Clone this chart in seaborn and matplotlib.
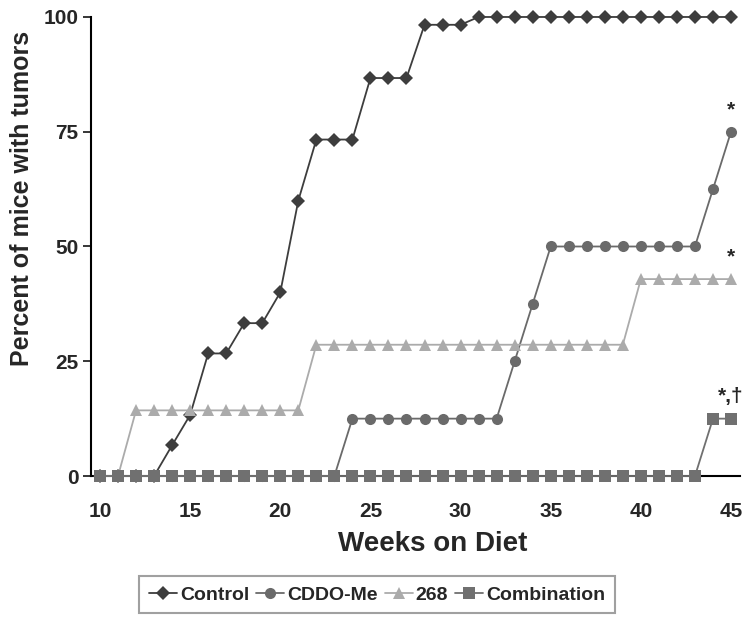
import pandas as pd
import matplotlib
matplotlib.use("Agg")
import matplotlib.pyplot as plt
import seaborn as sns

weeks = list(range(10, 46))

control = [0, 0, 0, 0, 6.7, 13.3, 26.7, 26.7, 33.3, 33.3, 40, 60, 73.3, 73.3, 73.3,
           86.7, 86.7, 86.7, 98.3, 98.3, 98.3] + [100] * 15
cddo_me = [0] * 14 + [12.5] * 9 + [25, 37.5] + [50] * 9 + [62.5, 75]
t268 = [0, 0] + [14.3] * 10 + [28.6] * 18 + [42.9] * 6
combination = [0] * 34 + [12.5, 12.5]

series_names = ["Control", "CDDO-Me", "268", "Combination"]
series_values = [control, cddo_me, t268, combination]
colors = ["#3d3d3d", "#6a6a6a", "#ababab", "#707070"]
markers = ["D", "o", "^", "s"]

# annotations above the last point of each treated group
notes = [("*", 75), ("*", 42.9), ("*,\u2020", 12.5)]

rows = []
for name, vals in zip(series_names, series_values):
    for w, v in zip(weeks, vals):
        rows.append({"week": w, "pct": v, "group": name})
df = pd.DataFrame(rows)

sns.set_style("white")
plt.rcParams["font.family"] = ["Liberation Sans", "DejaVu Sans"]
plt.rcParams["font.weight"] = "bold"

fig = plt.figure(figsize=(7.5, 6.22), dpi=100)
ax = fig.add_axes([0.1213, 0.2347, 0.8654, 0.738])

sns.lineplot(
    data=df, x="week", y="pct", hue="group", style="group",
    hue_order=series_names, style_order=series_names,
    palette=dict(zip(series_names, colors)),
    markers=dict(zip(series_names, markers)),
    dashes=False, markersize=8, markeredgewidth=0, linewidth=1.3,
    ax=ax, clip_on=False, zorder=3,
)
for line in ax.lines:
    if line.get_marker() == "D":
        line.set_markersize(7.5)

ax.set_xlim(9.5, 45.5)
ax.set_ylim(0, 100)
ax.set_xticks([10, 15, 20, 25, 30, 35, 40, 45])
ax.set_yticks([0, 25, 50, 75, 100])
ax.tick_params(axis="x", length=0, pad=19, labelsize=15)
ax.tick_params(axis="y", length=6, width=1.3, direction="out", pad=3, labelsize=15, left=True)
for lab in ax.get_xticklabels() + ax.get_yticklabels():
    lab.set_fontweight("bold")

for s in ["top", "right"]:
    ax.spines[s].set_visible(False)
ax.spines["left"].set_color("black")
ax.spines["left"].set_linewidth(1.5)
ax.spines["bottom"].set_color("black")
ax.spines["bottom"].set_linewidth(1.5)

ax.set_xlabel("Weeks on Diet", fontsize=20, fontweight="bold")
ax.xaxis.set_label_coords(0.527, -0.12)
ax.set_ylabel("Percent of mice with tumors", fontsize=18, fontweight="bold")
ax.yaxis.set_label_coords(-0.088, 0.605)

for text, yv in notes:
    ax.annotate(text, (45, yv), xytext=(0, 9), textcoords="offset points",
                ha="center", va="bottom", fontsize=15, fontweight="bold")

handles, labels = ax.get_legend_handles_labels()
ax.get_legend().remove()
leg = fig.legend(handles, labels, loc="lower center", bbox_to_anchor=(0.503, 0.014),
                 borderaxespad=0, ncol=4, frameon=True, fancybox=False, edgecolor="#888888",
                 fontsize=14, handlelength=1.45, handletextpad=0.15, columnspacing=0.35,
                 borderpad=0.5)
leg.get_frame().set_linewidth(1.5)
for t in leg.get_texts():
    t.set_fontweight("bold")

fig.savefig("out.png", dpi=100)
